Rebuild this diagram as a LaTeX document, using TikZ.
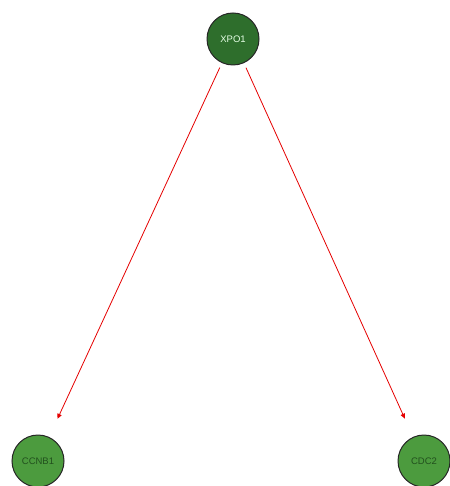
\documentclass[tikz,border=0pt]{standalone}
\usepackage{fontspec}
\setmainfont{Liberation Sans}
\usetikzlibrary{arrows.meta}
\definecolor{hubgreen}{RGB}{46,110,44}
\definecolor{leafgreen}{RGB}{76,155,62}
\definecolor{leaftext}{RGB}{34,80,30}

\begin{document}
\begin{tikzpicture}[x=1pt,y=-1pt,
        gene/.style={circle, draw=black!85, line width=1pt, minimum size=52pt, inner sep=0pt,
          font=\fontsize{9.5}{10}\selectfont},
        hub/.style={gene, fill=hubgreen, text=white!90!green},
        leaf/.style={gene, fill=leafgreen, text=leaftext},
        regulates/.style={red!90!black, line width=0.8pt, -{Triangle[length=5pt,width=4.5pt]},
          shorten <=5pt, shorten >=20pt}]
        \useasboundingbox (0,0) rectangle (449,486);
        \node[hub] (xpo1) at (233,39) {XPO1};
        \node[leaf] (ccnb1) at (38,461) {CCNB1};
        \node[leaf] (cdc2) at (424,461) {CDC2};
        \draw [regulates] (xpo1) -- (ccnb1);
        \draw [regulates] (xpo1) -- (cdc2);
        \end{tikzpicture}
\end{document}
